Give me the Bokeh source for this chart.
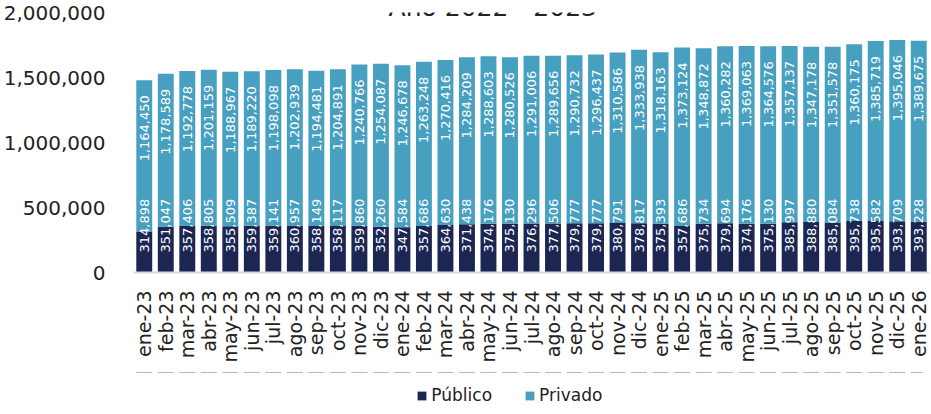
import math
from bokeh.plotting import figure
from bokeh.layouts import column
from bokeh.models import (ColumnDataSource, FactorRange, LabelSet, Label, Legend,
                          LegendItem, NumeralTickFormatter, FixedTicker)
from bokeh.core.properties import value
from bokeh.embed import file_html
from bokeh.resources import INLINE

months = ["ene-23", "feb-23", "mar-23", "abr-23", "may-23", "jun-23", "jul-23", "ago-23",
          "sep-23", "oct-23", "nov-23", "dic-23", "ene-24", "feb-24", "mar-24", "abr-24",
          "may-24", "jun-24", "jul-24", "ago-24", "sep-24", "oct-24", "nov-24", "dic-24",
          "ene-25", "feb-25", "mar-25", "abr-25", "may-25", "jun-25", "jul-25", "ago-25",
          "sep-25", "oct-25", "nov-25", "dic-25", "ene-26"]

publico = [314898, 351047, 357406, 358805, 355509, 359387, 359141, 360957, 358149, 358117,
           359860, 352260, 347584, 357686, 364630, 371438, 374176, 375130, 376296, 377506,
           379777, 379777, 380791, 378817, 375393, 357686, 375734, 379694, 374176, 375130,
           385997, 388880, 385084, 395738, 395582, 393709, 393228]

privado = [1164450, 1178589, 1192778, 1201159, 1188967, 1189220, 1198098, 1202939, 1194481,
           1204891, 1240766, 1254087, 1246678, 1263248, 1270416, 1284209, 1288603, 1280526,
           1291006, 1289656, 1290732, 1296437, 1310586, 1333938, 1318163, 1373124, 1348872,
           1360282, 1369063, 1364576, 1357137, 1347178, 1351578, 1360175, 1385719, 1395046,
           1389675]

y_ticks = [0, 500000, 1000000, 1500000, 2000000]
title_text = "Año 2022 - 2023"
series_names = ["Público", "Privado"]

C_PUB = "#1C2652"
C_PRIV = "#48A0C1"
FONT = "DejaVu Sans"

total = [a + b for a, b in zip(publico, privado)]
src = ColumnDataSource(dict(
    m=months, pub=publico, priv=privado, total=total,
    pub_lbl=[f"{v:,}" for v in publico],
    priv_lbl=[f"{v:,}" for v in privado],
    zero=[0] * len(months),
))

xr = FactorRange(factors=months, range_padding=0)

main = figure(x_range=xr, y_range=(0, 2000000),
              frame_width=796, frame_height=260, output_backend="svg",
              toolbar_location=None,
              min_border_left=127, min_border_right=0, min_border_top=12,
              min_border_bottom=100)
main.outline_line_color = None
main.xgrid.grid_line_color = None
main.ygrid.grid_line_color = None

main.vbar(x="m", bottom=0, top="pub", width=0.74, source=src,
          fill_color=C_PUB, line_color=None)
main.vbar(x="m", bottom="pub", top="total", width=0.74, source=src,
          fill_color=C_PRIV, line_color=None)

lbl_pub = LabelSet(x="m", y="zero", text="pub_lbl", source=src, angle=math.pi / 2,
                   text_align="left", text_baseline="middle", y_offset=20,
                   text_font=value(FONT), text_font_size=value("13px"),
                   text_color="white")
lbl_priv = LabelSet(x="m", y="total", text="priv_lbl", source=src, angle=math.pi / 2,
                    text_align="right", text_baseline="middle", y_offset=-15,
                    text_font=value(FONT), text_font_size=value("13px"),
                    text_color="white")
main.add_layout(lbl_pub)
main.add_layout(lbl_priv)

# y axis
main.yaxis.ticker = FixedTicker(ticks=y_ticks)
main.yaxis.formatter = NumeralTickFormatter(format="0,0")
main.yaxis.axis_line_color = None
main.yaxis.major_tick_line_color = None
main.yaxis.minor_tick_line_color = None
main.yaxis.major_label_standoff = 22
main.yaxis.major_label_text_font = FONT
main.yaxis.major_label_text_font_size = "20px"
main.yaxis.major_label_text_color = "#222222"

# x axis
main.xaxis.axis_line_color = "#D9D9D9"
main.xaxis.axis_line_width = 2
main.xaxis.major_tick_line_color = None
main.xaxis.minor_tick_line_color = None
main.xaxis.major_tick_out = 0
main.xaxis.major_label_orientation = math.pi / 2
main.xaxis.major_label_standoff = 18
main.xaxis.major_label_text_font = FONT
main.xaxis.major_label_text_font_size = "19px"
main.xaxis.major_label_text_color = "#222222"

# clipped title at the top edge
title = Label(x=16.7, y=2040000, text=title_text, text_align="center",
              text_baseline="alphabetic", text_font=FONT, text_font_size="25px",
              text_color="#222222")
main.add_layout(title)

# legend strip below the chart (series renderers fall just outside this strip's range)
leg = figure(x_range=xr, y_range=(-2000000, 0), frame_width=796, frame_height=34,
             output_backend="svg", toolbar_location=None,
             x_axis_location=None, y_axis_location=None,
             min_border_left=127, min_border_right=0, min_border_top=0,
             min_border_bottom=0)
leg.outline_line_color = None
leg.grid.visible = False
r_pub = leg.vbar(x="m", bottom="pub", top="total", width=0.74, source=src,
                 fill_color=C_PUB, line_color=None)
r_priv = leg.vbar(x="m", bottom="pub", top="total", width=0.74, source=src,
                  fill_color=C_PRIV, line_color=None)
legend = Legend(items=[LegendItem(label=series_names[0], renderers=[r_pub]),
                       LegendItem(label=series_names[1], renderers=[r_priv])],
                orientation="horizontal", location=(374, 1),
                glyph_width=11, glyph_height=11, label_standoff=4, spacing=32,
                label_height=20,
                label_text_font=FONT, label_text_font_size="17px",
                label_text_color="#222222", border_line_color=None,
                background_fill_alpha=0, margin=0, padding=0)
leg.add_layout(legend)

p = column(main, leg, spacing=0)

open("out.html", "w").write(file_html(p, INLINE))
